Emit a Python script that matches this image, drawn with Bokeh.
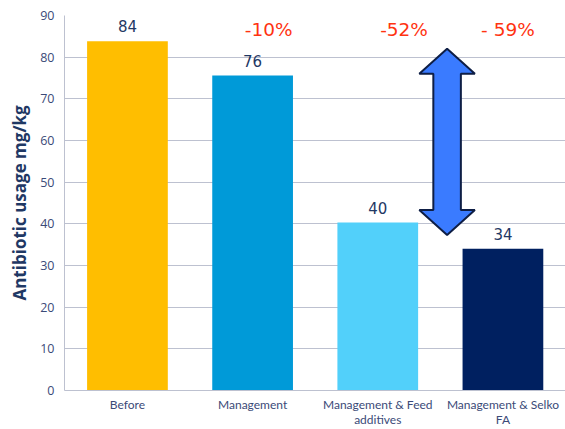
from bokeh.plotting import figure
from bokeh.models import Range1d, FixedTicker, ColumnDataSource
from bokeh.core.properties import value
from bokeh.embed import file_html
from bokeh.resources import INLINE

# ---- data ----
categories = ["Before", "Management", "Management & Feed\nadditives", "Management & Selko\nFA"]
usage = [83.8, 75.6, 40.3, 34.0]
usage_labels = ["84", "76", "40", "34"]
reduction_labels = ["-10%", "-52%", "- 59%"]
reduction_for = [2, 3, 4]          # category index each reduction belongs to
y_ticks = [0, 10, 20, 30, 40, 50, 60, 70, 80, 90]
arrow_from = 82.0                  # arrow spans from ~Before level ...
arrow_to = 37.3                    # ... down to ~Feed additives level

# ---- styles ----
bar_colors = ["#FFBE00", "#009AD8", "#52D0FA", "#002060"]
navy = "#1F3864"
tick_color = "#3B4A78"
grid_color = "#BDC1D0"
red = "#FF3311"
reduction_dx = [0.128, 0.21, 0.04]
reduction_y = 86.6
arrow_x = 3.554
arrow_head = 6.0
arrow_shaft_half = 0.11
arrow_head_half = 0.222

xs = list(range(1, len(categories) + 1))

p = figure(width=565, height=429, output_backend="svg", toolbar_location=None,
           x_range=Range1d(0.497, 4.5), y_range=Range1d(0, 90),
           min_border_left=64, min_border_right=0, min_border_top=15, min_border_bottom=20)
p.outline_line_color = None
p.background_fill_color = "white"

src = ColumnDataSource(dict(x=xs, top=usage, color=bar_colors, lab=usage_labels))
p.vbar(x="x", top="top", width=0.645, color="color", source=src, line_color=None)

p.text(x="x", y="top", text="lab", source=src, text_align="center", text_baseline="bottom",
       y_offset=-9, text_font=value("DejaVu Sans"), text_font_size="15px", text_color=navy)

p.text(x=[reduction_for[i] + reduction_dx[i] for i in range(len(reduction_labels))],
       y=[reduction_y] * len(reduction_labels), text=reduction_labels,
       text_align="center", text_baseline="middle", text_font=value("DejaVu Sans"),
       text_font_size="18.5px", text_color=red)

# double-headed arrow
ax = arrow_x
sh, hh = arrow_shaft_half, arrow_head_half
t, b, h = arrow_from, arrow_to, arrow_head
px = [ax, ax + hh, ax + sh, ax + sh, ax + hh, ax, ax - hh, ax - sh, ax - sh, ax - hh]
py = [t, t - h, t - h, b + h, b + h, b, b + h, b + h, t - h, t - h]
p.patch(px, py, fill_color="#3A7BFF", line_color="#0E1E45", line_width=2)

# axes
p.yaxis.ticker = FixedTicker(ticks=y_ticks)
p.xaxis.ticker = FixedTicker(ticks=xs)
p.xaxis.major_label_overrides = {x: c for x, c in zip(xs, categories)}
for ax_ in (p.xaxis, p.yaxis):
    ax_.axis_line_color = grid_color
    ax_.major_tick_line_color = None
    ax_.minor_tick_line_color = None
    ax_.major_tick_out = 0
    ax_.major_tick_in = 0
    ax_.major_label_text_color = tick_color
p.xaxis.major_label_text_font = "Lato"
p.yaxis.major_label_text_font = "Open Sans"
p.xaxis.major_label_text_font_size = "12px"
p.xaxis.major_label_text_line_height = 1.0
p.yaxis.major_label_text_font_size = "12.5px"
p.xaxis.major_label_standoff = 6
p.yaxis.major_label_standoff = 10
p.yaxis.axis_label = "Antibiotic usage mg/kg"
p.yaxis.axis_label_text_font = "Open Sans"
p.yaxis.axis_label_text_font_style = "bold"
p.yaxis.axis_label_text_font_size = "17px"
p.yaxis.axis_label_text_color = navy
p.yaxis.axis_label_standoff = 6

p.xgrid.grid_line_color = None
p.ygrid.grid_line_color = grid_color
p.ygrid.ticker = FixedTicker(ticks=y_ticks)

open("out.html", "w").write(file_html(p, INLINE))
